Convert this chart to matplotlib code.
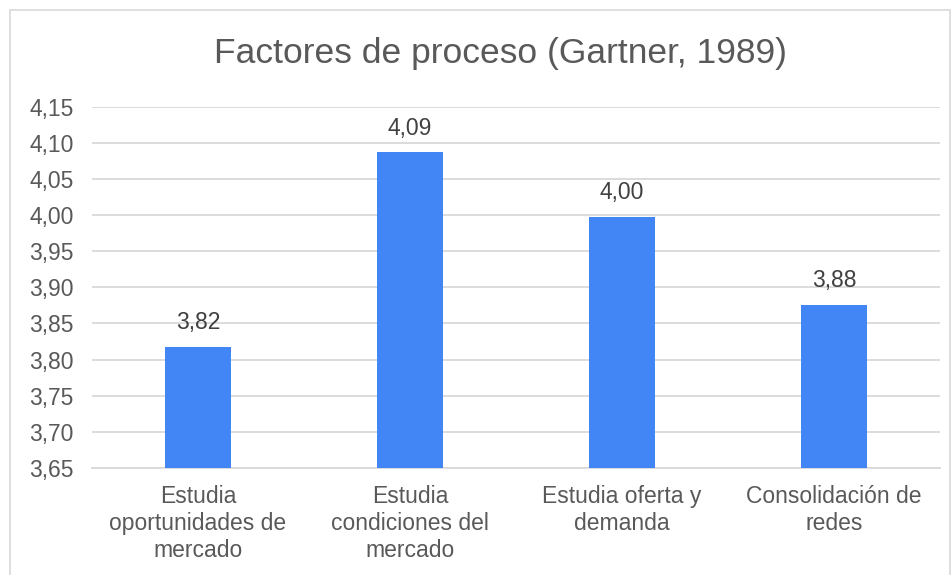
import numpy as np
import matplotlib.pyplot as plt
from matplotlib.patches import Rectangle

# datos del grafico
categorias = ['Estudia\noportunidades de\nmercado',
              'Estudia\ncondiciones del\nmercado',
              'Estudia oferta y\ndemanda',
              'Consolidación de\nredes']
valores = [3.818, 4.087, 3.998, 3.876]
ticks_y = [3.65, 3.70, 3.75, 3.80, 3.85, 3.90, 3.95, 4.00, 4.05, 4.10, 4.15]

plt.rcParams['font.family'] = ['Liberation Sans', 'DejaVu Sans']

fig = plt.figure(figsize=(9.53, 5.75), dpi=100)
ax = fig.add_axes([92/953, 1 - 468/575, 848/953, (468 - 106.7)/575])

x = np.arange(len(categorias))
ax.bar(x, valores, width=0.31, color='#4285F4', zorder=3, bottom=0)
ax.set_ylim(3.65, 4.15)
ax.set_xlim(-0.5, len(categorias) - 0.5)

ax.set_yticks(ticks_y)
ax.set_yticklabels([f'{t:.2f}'.replace('.', ',') for t in ticks_y])
ax.set_xticks(x)
ax.set_xticklabels(categorias, linespacing=1.22)
ax.tick_params(axis='y', length=0, pad=13, labelsize=16.5, labelcolor='#595959')
ax.tick_params(axis='x', length=0, pad=12, labelsize=16.5, labelcolor='#595959')

ax.grid(axis='y', color='#d9d9d9', linewidth=1.3, zorder=0)
for s in ['top', 'right', 'left']:
    ax.spines[s].set_visible(False)
ax.spines['bottom'].set_color('#d9d9d9')
ax.spines['bottom'].set_linewidth(1.3)

for xi, v in zip(x, valores):
    ax.annotate(f'{v:.2f}'.replace('.', ','), (xi, v), xytext=(0, 9),
                textcoords='offset points', ha='center', va='bottom',
                fontsize=16.5, color='#404040')

fig.text(501/953, 1 - 53/575, 'Factores de proceso (Gartner, 1989)',
         ha='center', va='center', fontsize=25.5, color='#595959')

# borde del area del grafico
fig.patches.append(Rectangle((10/953, -0.05), 940/953, 1.05 - 10/575,
                             transform=fig.transFigure, fill=False,
                             edgecolor='#d9d9d9', linewidth=1.2))

plt.savefig('out.png', dpi=100)
